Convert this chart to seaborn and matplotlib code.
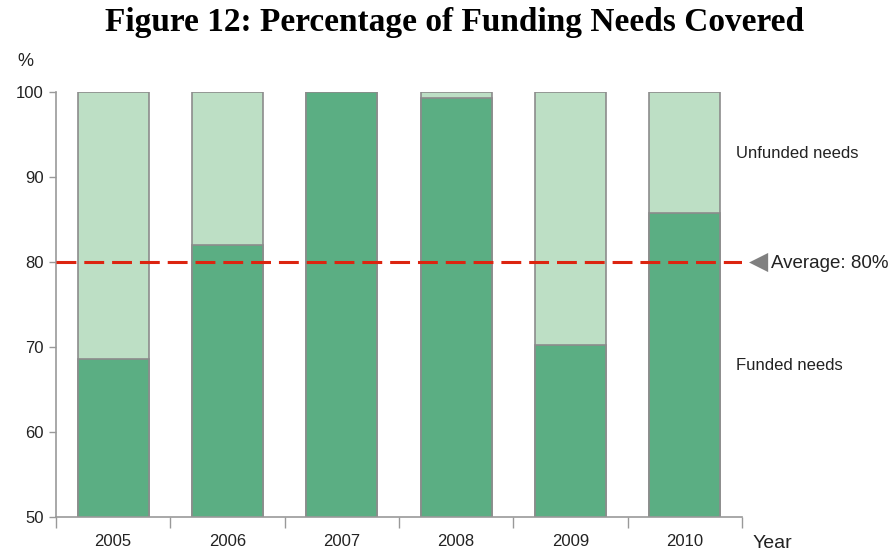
import matplotlib
matplotlib.use("Agg")
import matplotlib.pyplot as plt
import seaborn as sns
import pandas as pd

# Share of humanitarian funding needs covered each year (%)
years = ["2005", "2006", "2007", "2008", "2009", "2010"]
funded = [68.6, 82.0, 100.0, 99.3, 70.2, 85.8]
total = [100, 100, 100, 100, 100, 100]
average = 80
y_ticks = [50, 60, 70, 80, 90, 100]

funded_color = "#5bae83"
unfunded_color = "#bddfc5"
edge_color = "#8c8c8c"
axis_color = "#999999"
text_color = "#222222"

sns.set_theme(style="white")
plt.rcParams["font.family"] = ["Liberation Sans", "DejaVu Sans"]

df = pd.DataFrame({"year": years, "funded": funded, "total": total})

fig = plt.figure(figsize=(8.91, 5.53), dpi=100)
ax = fig.add_axes([56 / 891, 36 / 553, 686 / 891, 425 / 553])

sns.barplot(data=df, x="year", y="total", color=unfunded_color, width=0.62,
            edgecolor=edge_color, linewidth=1.2, saturation=1, ax=ax)
sns.barplot(data=df, x="year", y="funded", color=funded_color, width=0.62,
            edgecolor=edge_color, linewidth=1.2, saturation=1, ax=ax)

ax.set_xlim(-0.5, len(years) - 0.5)
ax.set_ylim(50, 100)
ax.set_yticks(y_ticks)
ax.set_xlabel("")
ax.set_ylabel("")

# Average line
ax.axhline(average, color="#dc2410", linewidth=2.2, linestyle=(0, (6.5, 2.6)), zorder=5)

# Axes styling
for side in ["top", "right"]:
    ax.spines[side].set_visible(False)
for side in ["left", "bottom"]:
    ax.spines[side].set_color(axis_color)
    ax.spines[side].set_linewidth(1.2)

ax.tick_params(axis="y", which="major", left=True, length=5, width=1.0,
               color=axis_color, labelsize=12, labelcolor=text_color, pad=4)
ax.set_xticks(range(len(years)))
ax.set_xticklabels(years)
ax.tick_params(axis="x", which="major", bottom=False, length=0, labelsize=12,
               labelcolor=text_color, pad=12)
ax.set_xticks([i - 0.5 for i in range(len(years) + 1)], minor=True)
ax.tick_params(axis="x", which="minor", bottom=True, length=8, width=1.0,
               color=axis_color)

# Text annotations
fig.text(25 / 891, 1 - 62 / 553, "%", fontsize=13, color=text_color,
         ha="center", va="center")
fig.text(772 / 891, 1 - 543 / 553, "Year", fontsize=14, color=text_color,
         ha="center", va="center")
fig.text(736 / 891, 1 - 154 / 553, "Unfunded needs", fontsize=12,
         color=text_color, ha="left", va="center")
fig.text(736 / 891, 1 - 366 / 553, "Funded needs", fontsize=12,
         color=text_color, ha="left", va="center")
fig.text(759 / 891, 1 - 262 / 553, "\u25C0", fontsize=18, color="#808080",
         ha="center", va="center", family=["DejaVu Sans"])
fig.text(771 / 891, 1 - 263 / 553, f"Average: {average}%", fontsize=13.5,
         color=text_color, ha="left", va="center")

fig.text(455 / 891, 1 - 22 / 553, "Figure 12: Percentage of Funding Needs Covered",
         fontsize=24, fontweight="bold", color="black", ha="center", va="center",
         family=["Liberation Serif", "DejaVu Serif"])

fig.savefig("out.png", dpi=100)
